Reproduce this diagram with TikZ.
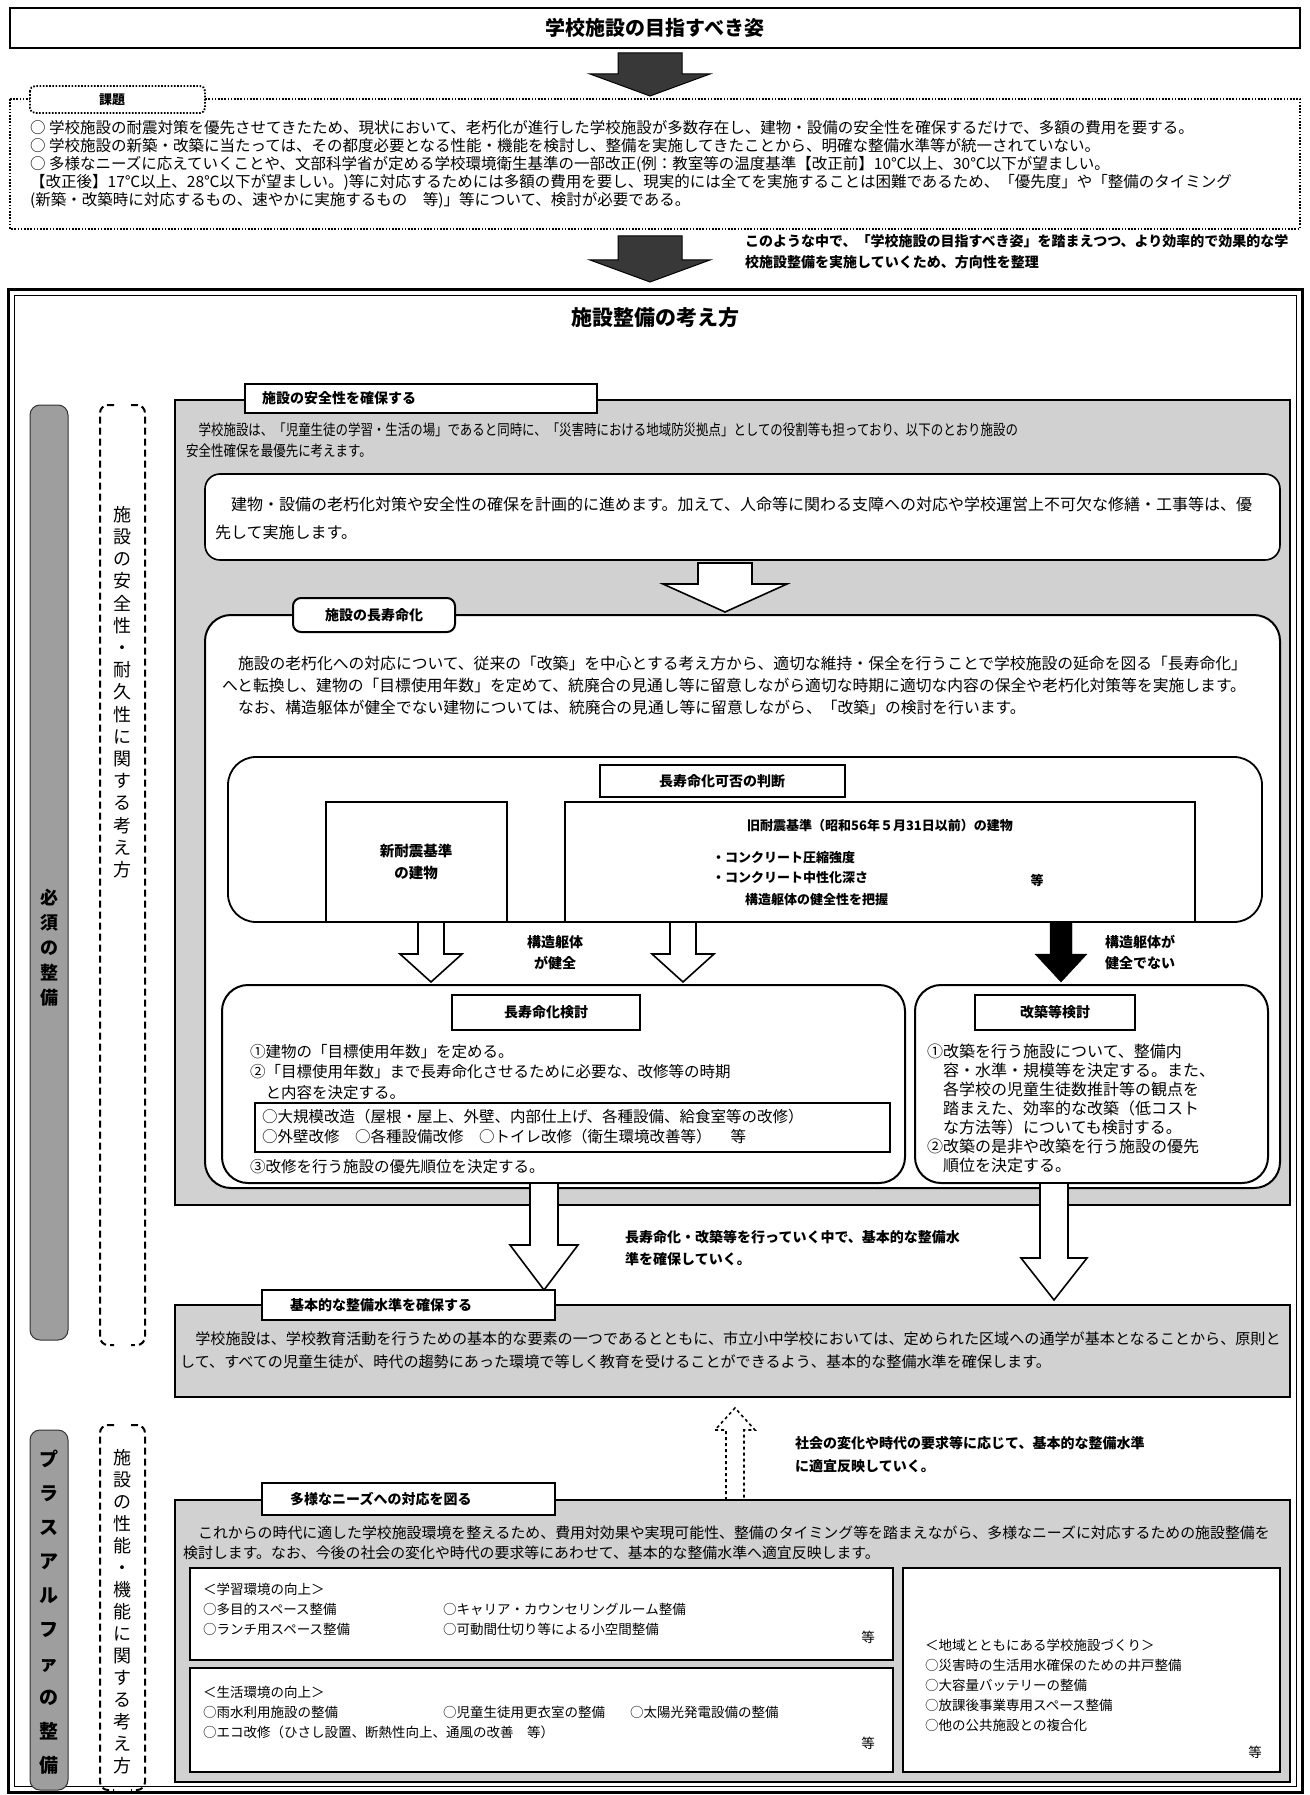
\documentclass[tikz,border=0pt]{standalone}
\usepackage{fontspec}
\usepackage{graphicx}
\setmainfont{Noto Sans CJK JP}
\newcommand\fz[2]{\fontsize{#1}{#2}\selectfont}
\newcommand\cond[2]{\scalebox{#1}[1]{\begin{tabular}{@{}l@{}}#2\end{tabular}}}
\newcommand\arrdown[7]{\draw[#1] ({#2-#5},#3) -- ({#2+#5},#3) -- ({#2+#5},{#4-#7}) -- ({#2+#6},{#4-#7}) -- (#2,#4) -- ({#2-#6},{#4-#7}) -- ({#2-#5},{#4-#7}) -- cycle;}
\newcommand\arrup[7]{\draw[#1] ({#2-#5},#4) -- ({#2-#5},{#3+#7}) -- ({#2-#6},{#3+#7}) -- (#2,#3) -- ({#2+#6},{#3+#7}) -- ({#2+#5},{#3+#7}) -- ({#2+#5},#4);}
\tikzset{
 panel/.style={draw=black, line width=1.6pt, fill=black!18},
 tabbox/.style={draw=black, line width=2.2pt, fill=white},
 wround/.style={draw=black, line width=2pt, fill=white, rounded corners=26pt},
 plainbox/.style={draw=black, line width=1.4pt, fill=white},
 txt/.style={inner sep=0pt, anchor=north west, align=left},
 hd/.style={inner sep=0pt, font=\bfseries\fz{14}{16}},
 hollow/.style={draw=black, line width=1.6pt, fill=white, line join=miter},
 solidarr/.style={draw=black, fill=black},
 noisy/.style={draw=black, line width=1pt, fill=black!78},
 dotbox/.style={draw=black, line width=1.8pt, dash pattern=on 1.6pt off 1.6pt},
 band/.style={draw=black!80, line width=1pt, fill=black!38, rounded corners=10pt},
 brk/.style={draw=black, line width=2pt, dash pattern=on 7pt off 4pt},
 vtext/.style={inner sep=0pt, align=center},
}
\begin{document}
\begin{tikzpicture}[x=1pt,y=-1pt]
\useasboundingbox (0,0) rectangle (1309,1795);
\fill[white] (0,0) rectangle (1309,1795);

% ---------- title ----------
\draw[line width=1.6pt] (10,8) rectangle (1300,48);
\node[hd, font=\bfseries\fz{20}{22}] (title) at (655,28) {学校施設の目指すべき姿};
\arrdown{noisy}{650}{53}{96}{32}{60}{22}

% ---------- issues ----------
\draw[dotbox] (10,99) rectangle (1300,229);
\draw[dotbox, fill=white, rounded corners=5pt] (30,86) rectangle (205,113);
\node[hd, font=\bfseries\fz{13}{15}] (kadai) at (112,99.5) {課題};
\node[txt, font=\fz{15.5}{18}] (kadaitext) at (30,120) {○ 学校施設の耐震対策を優先させてきたため、現状において、老朽化が進行した学校施設が多数存在し、建物・設備の安全性を確保するだけで、多額の費用を要する。\\
○ 学校施設の新築・改築に当たっては、その都度必要となる性能・機能を検討し、整備を実施してきたことから、明確な整備水準等が統一されていない。\\
○ 多様なニーズに応えていくことや、文部科学省が定める学校環境衛生基準の一部改正(例：教室等の温度基準【改正前】10℃以上、30℃以下が望ましい。\\
【改正後】17℃以上、28℃以下が望ましい。)等に対応するためには多額の費用を要し、現実的には全てを実施することは困難であるため、「優先度」や「整備のタイミング\\
(新築・改築時に対応するもの、速やかに実施するもの　等)」等について、検討が必要である。};

\arrdown{noisy}{650}{236}{282}{32}{60}{22}
\node[txt, font=\bfseries\fz{14}{21}] (note0) at (745,234) {このような中で、「学校施設の目指すべき姿」を踏まえつつ、より効率的で効果的な学\\校施設整備を実施していくため、方向性を整理};

% ---------- main frame ----------
\draw[line width=3pt] (8,289) rectangle (1302,1792);
\draw[line width=1pt] (14,295) rectangle (1296,1786);
\node[hd, font=\bfseries\fz{21}{23}] (title2) at (655,318) {施設整備の考え方};

% left bands
\draw[band] (30,405) rectangle (68,1340);
\node[vtext, font=\bfseries\fz{18}{25}] (band1) at (49,948) {必\\須\\の\\整\\備};
\draw[band] (30,1430) rectangle (68,1790);
\node[vtext, font=\bfseries\fz{19}{34}] (band2) at (49,1612) {プ\\ラ\\ス\\ア\\ル\\フ\\ァ\\の\\整\\備};

% dashed brackets
\draw[brk, rounded corners=8pt] (114,405) -| (100,1345) -- (114,1345);
\draw[brk, rounded corners=8pt] (131,405) -| (145,1345) -- (131,1345);
\node[vtext, font=\fz{18}{22.2}] (lab1) at (122.5,692) {施\\設\\の\\安\\全\\性\\・\\耐\\久\\性\\に\\関\\す\\る\\考\\え\\方};
\draw[brk, rounded corners=8pt] (114,1425) -| (100,1790) -- (114,1790);
\draw[brk, rounded corners=8pt] (131,1425) -| (145,1790) -- (131,1790);
\node[vtext, font=\fz{18}{22}] (lab2) at (122.5,1612) {施\\設\\の\\性\\能\\・\\機\\能\\に\\関\\す\\る\\考\\え\\方};

% ---------- section 1 ----------
\draw[panel] (175,400) rectangle (1290,1205);
\draw[tabbox] (245,384) rectangle (597,413);
\node[hd, anchor=west] (tab1) at (262,398.5) {施設の安全性を確保する};
\node[txt, font=\fz{15}{21}] (para1) at (186,421) {\cond{0.83}{　学校施設は、「児童生徒の学習・生活の場」であると同時に、「災害時における地域防災拠点」としての役割等も担っており、以下のとおり施設の\\安全性確保を最優先に考えます。}};
\draw[plainbox, line width=1.6pt, rounded corners=15pt] (205,474) rectangle (1280,560);
\node[txt, font=\fz{16}{28}] (inner1) at (215,497) {　建物・設備の老朽化対策や安全性の確保を計画的に進めます。加えて、人命等に関わる支障への対応や学校運営上不可欠な修繕・工事等は、優\\先して実施します。};
\arrdown{hollow}{725}{563}{612}{27}{62}{28}

\draw[wround] (205,615) rectangle (1280,1188);
\draw[tabbox, line width=2pt, rounded corners=8pt] (293,598) rectangle (455,632);
\node[hd] (tab2) at (374,615) {施設の長寿命化};
\node[txt, font=\fz{15.8}{22}] (para2) at (222,656) {　施設の老朽化への対応について、従来の「改築」を中心とする考え方から、適切な維持・保全を行うことで学校施設の延命を図る「長寿命化」\\へと転換し、建物の「目標使用年数」を定めて、統廃合の見通し等に留意しながら適切な時期に適切な内容の保全や老朽化対策等を実施します。\\　なお、構造躯体が健全でない建物については、統廃合の見通し等に留意しながら、「改築」の検討を行います。};

% judgement box
\draw[wround, line width=1.8pt, rounded corners=28pt] (228,757) rectangle (1262,922);
\draw[plainbox] (600,765) rectangle (845,797);
\node[hd] (judge) at (722,781) {長寿命化可否の判断};
\draw[plainbox] (326,802) rectangle (507,922);
\node[vtext, font=\bfseries\fz{14.5}{22}] (newb) at (416,862) {新耐震基準\\の建物};
\draw[plainbox] (565,802) rectangle (1195,922);
\node[hd, font=\bfseries\fz{13}{15}] (oldb) at (880,826) {旧耐震基準（昭和56年５月31日以前）の建物};
\node[txt, font=\bfseries\fz{13}{20}] (conc) at (712,851) {・コンクリート圧縮強度\\・コンクリート中性化深さ};
\node[hd, font=\bfseries\fz{13}{15}] (etc0) at (1037,880) {等};
\node[hd, font=\bfseries\fz{13}{15}, anchor=west] (grasp) at (745,900) {構造躯体の健全性を把握};

\arrdown{hollow}{431}{922}{982}{13}{31}{28}
\arrdown{hollow}{683}{922}{982}{13}{31}{28}
\arrdown{solidarr}{1061}{922}{982}{11}{26}{28}
\node[vtext, font=\bfseries\fz{14}{21}] (ok) at (555,953) {構造躯体\\が健全};
\node[vtext, font=\bfseries\fz{14}{21}] (ng) at (1140,953) {構造躯体が\\健全でない};

% study boxes
\draw[wround] (222,985) rectangle (905,1183);
\draw[plainbox] (452,995) rectangle (640,1030);
\node[hd] (study1) at (546,1012.5) {長寿命化検討};
\node[txt, font=\fz{15.5}{20.5}] (s1text) at (250,1044) {①建物の「目標使用年数」を定める。\\②「目標使用年数」まで長寿命化させるために必要な、改修等の時期\\　と内容を決定する。};
\draw[plainbox] (255,1103) rectangle (890,1152);
\node[txt, font=\fz{15.5}{20.5}] (s1inner) at (262,1109) {○大規模改造（屋根・屋上、外壁、内部仕上げ、各種設備、給食室等の改修）\\○外壁改修　○各種設備改修　○トイレ改修（衛生環境改善等）　 等};
\node[txt, font=\fz{15.5}{20.5}] (s1last) at (250,1159) {③改修を行う施設の優先順位を決定する。};

\draw[wround] (915,985) rectangle (1268,1183);
\draw[plainbox] (975,995) rectangle (1135,1030);
\node[hd] (study2) at (1055,1012.5) {改築等検討};
\node[txt, font=\fz{16}{19}] (s2text) at (927,1044) {①改築を行う施設について、整備内\\　容・水準・規模等を決定する。また、\\　各学校の児童生徒数推計等の観点を\\　踏まえた、効率的な改築（低コスト\\　な方法等）についても検討する。\\②改築の是非や改築を行う施設の優先\\　順位を決定する。};

\arrdown{hollow}{544}{1183}{1290}{14}{34}{45}
\arrdown{hollow}{1054}{1183}{1300}{14}{33}{42}
\node[txt, font=\bfseries\fz{14}{22}] (note1) at (625,1230) {長寿命化・改築等を行っていく中で、基本的な整備水\\準を確保していく。};

% ---------- section 2 ----------
\draw[panel] (175,1305) rectangle (1290,1397);
\draw[tabbox] (262,1290) rectangle (555,1320);
\node[hd, anchor=west] (tab3) at (290,1305) {基本的な整備水準を確保する};
\node[txt, font=\fz{15.1}{23}] (para3) at (180,1332) {　学校施設は、学校教育活動を行うための基本的な要素の一つであるとともに、市立小中学校においては、定められた区域への通学が基本となることから、原則と\\して、すべての児童生徒が、時代の趨勢にあった環境で等しく教育を受けることができるよう、基本的な整備水準を確保します。};

\arrup{hollow, dashed, fill=none}{735}{1408}{1500}{9}{20}{22}
\node[txt, font=\bfseries\fz{14}{23}] (note2) at (795,1436) {社会の変化や時代の要求等に応じて、基本的な整備水準\\に適宜反映していく。};

% ---------- section 3 ----------
\draw[panel] (175,1500) rectangle (1290,1782);
\draw[tabbox] (262,1483) rectangle (555,1515);
\node[hd, anchor=west] (tab4) at (290,1499) {多様なニーズへの対応を図る};
\node[txt, font=\fz{14.9}{20}] (para4) at (183,1526) {　これからの時代に適した学校施設環境を整えるため、費用対効果や実現可能性、整備のタイミング等を踏まえながら、多様なニーズに対応するための施設整備を\\検討します。なお、今後の社会の変化や時代の要求等にあわせて、基本的な整備水準へ適宜反映します。};

\draw[plainbox] (190,1568) rectangle (893,1660);
\draw[plainbox] (190,1668) rectangle (893,1772);
\draw[plainbox] (903,1568) rectangle (1280,1772);
\node[txt, font=\fz{13.5}{20}] (g1a) at (203,1583) {＜学習環境の向上＞\\○多目的スペース整備\\○ランチ用スペース整備};
\node[txt, font=\fz{13.5}{20}] (g1b) at (443,1603) {○キャリア・カウンセリングルーム整備\\○可動間仕切り等による小空間整備};
\node[inner sep=0pt, font=\fz{13.5}{15}] (g1c) at (868,1637) {等};
\node[txt, font=\fz{13.5}{20}] (g2a) at (203,1686) {＜生活環境の向上＞\\○雨水利用施設の整備\\○エコ改修（ひさし設置、断熱性向上、通風の改善　等）};
\node[txt, font=\fz{13.5}{20}] (g2b) at (443,1706) {○児童生徒用更衣室の整備};
\node[txt, font=\fz{13.5}{20}] (g2c) at (630,1706) {○太陽光発電設備の整備};
\node[inner sep=0pt, font=\fz{13.5}{15}] (g2d) at (868,1743) {等};
\node[txt, font=\fz{13.5}{20}] (g3a) at (925,1639) {＜地域とともにある学校施設づくり＞\\○災害時の生活用水確保のための井戸整備\\○大容量バッテリーの整備\\○放課後事業専用スペース整備\\○他の公共施設との複合化};
\node[inner sep=0pt, font=\fz{13.5}{15}] (g3b) at (1255,1752) {等};
\end{tikzpicture}
\end{document}
